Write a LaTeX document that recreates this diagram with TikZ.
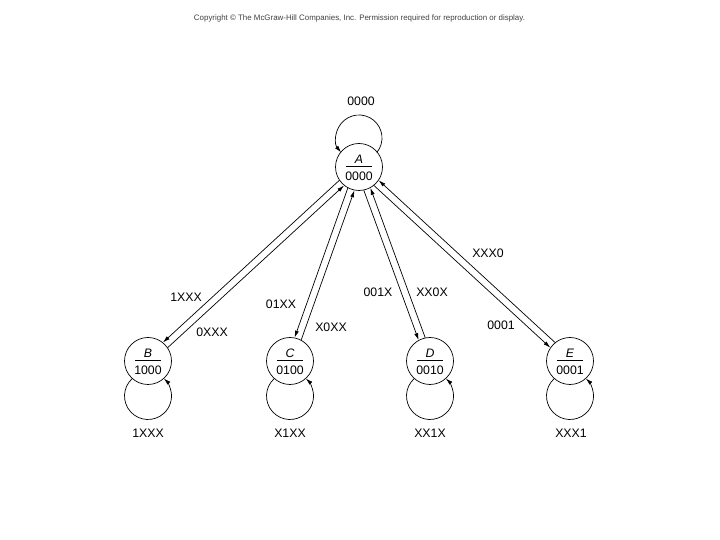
\documentclass[tikz,border=0pt]{standalone}
\usepackage{fontspec}
\setmainfont{Liberation Sans}
\usetikzlibrary{arrows.meta,calc}
\newcommand{\mystate}[4]{%
  \node[state] (#1) at (#2) {};
  \node[lbl] (#1-l) at ($(#1)+(0,8)$) {\itshape #3};
  \node[lbl] (#1-c) at ($(#1)+(0,-9.5)$) {#4};
  \draw[line width=0.6pt] ($(#1)+(-13,0.5)$) -- ($(#1)+(13,0.5)$);
}
\newcommand{\edgeR}[2]{%
  \draw[tr,shorten <=23.5pt,shorten >=23.5pt] ($(#1)!3.5pt!-90:(#2)$) -- ($(#2)!3.5pt!90:(#1)$);
}
\begin{document}
\begin{tikzpicture}[x=1pt,y=1pt,
  state/.style={circle,draw,line width=0.7pt,minimum size=47pt,inner sep=0pt},
  lbl/.style={font=\fontsize{12.3}{14}\selectfont,inner sep=0pt},
  tr/.style={line width=0.7pt,-{Latex[length=7pt,width=4pt]}}]
\useasboundingbox (0,0) rectangle (720,540);
\node[text=black!75,inner sep=0pt] (copy) at (359.5,522)
  {\resizebox{331pt}{!}{Copyright \textcopyright{} The McGraw-Hill Companies, Inc. Permission required for reproduction or display.}};

\mystate{A}{359,373}{A}{0000}
\mystate{B}{148,179}{B}{1000}
\mystate{C}{290,179}{C}{0100}
\mystate{D}{430,179}{D}{0010}
\mystate{E}{570,179}{E}{0001}

% self loops
\coordinate (Al) at ($(A)+(0,29)$);
\draw[tr] (Al) ++(-39:23) arc[start angle=-39,end angle=219,radius=23];
\foreach \n in {B,C,D,E}{
  \coordinate (\n l) at ($(\n)+(0,-35)$);
  \draw[tr] (\n l) ++(132:23.5) arc[start angle=132,end angle=408,radius=23.5];
}

% transitions
\edgeR{A}{B}\edgeR{B}{A}
\edgeR{A}{C}\edgeR{C}{A}
\edgeR{A}{D}\edgeR{D}{A}
\edgeR{A}{E}\edgeR{E}{A}

% labels
\node[lbl] (lA) at (361,439) {0000};
\node[lbl] (lAB) at (186,243) {1XXX};
\node[lbl] (lBA) at (212,208) {0XXX};
\node[lbl] (lAC) at (281,236) {01XX};
\node[lbl] (lCA) at (331,213) {X0XX};
\node[lbl] (lAD) at (378,248) {001X};
\node[lbl] (lDA) at (432,248) {XX0X};
\node[lbl] (lEA) at (488,287) {XXX0};
\node[lbl] (lAE) at (501,215) {0001};
\node[lbl] (lB) at (148,107) {1XXX};
\node[lbl] (lC) at (290,107) {X1XX};
\node[lbl] (lD) at (430,107) {XX1X};
\node[lbl] (lE) at (571,107) {XXX1};
\end{tikzpicture}
\end{document}
